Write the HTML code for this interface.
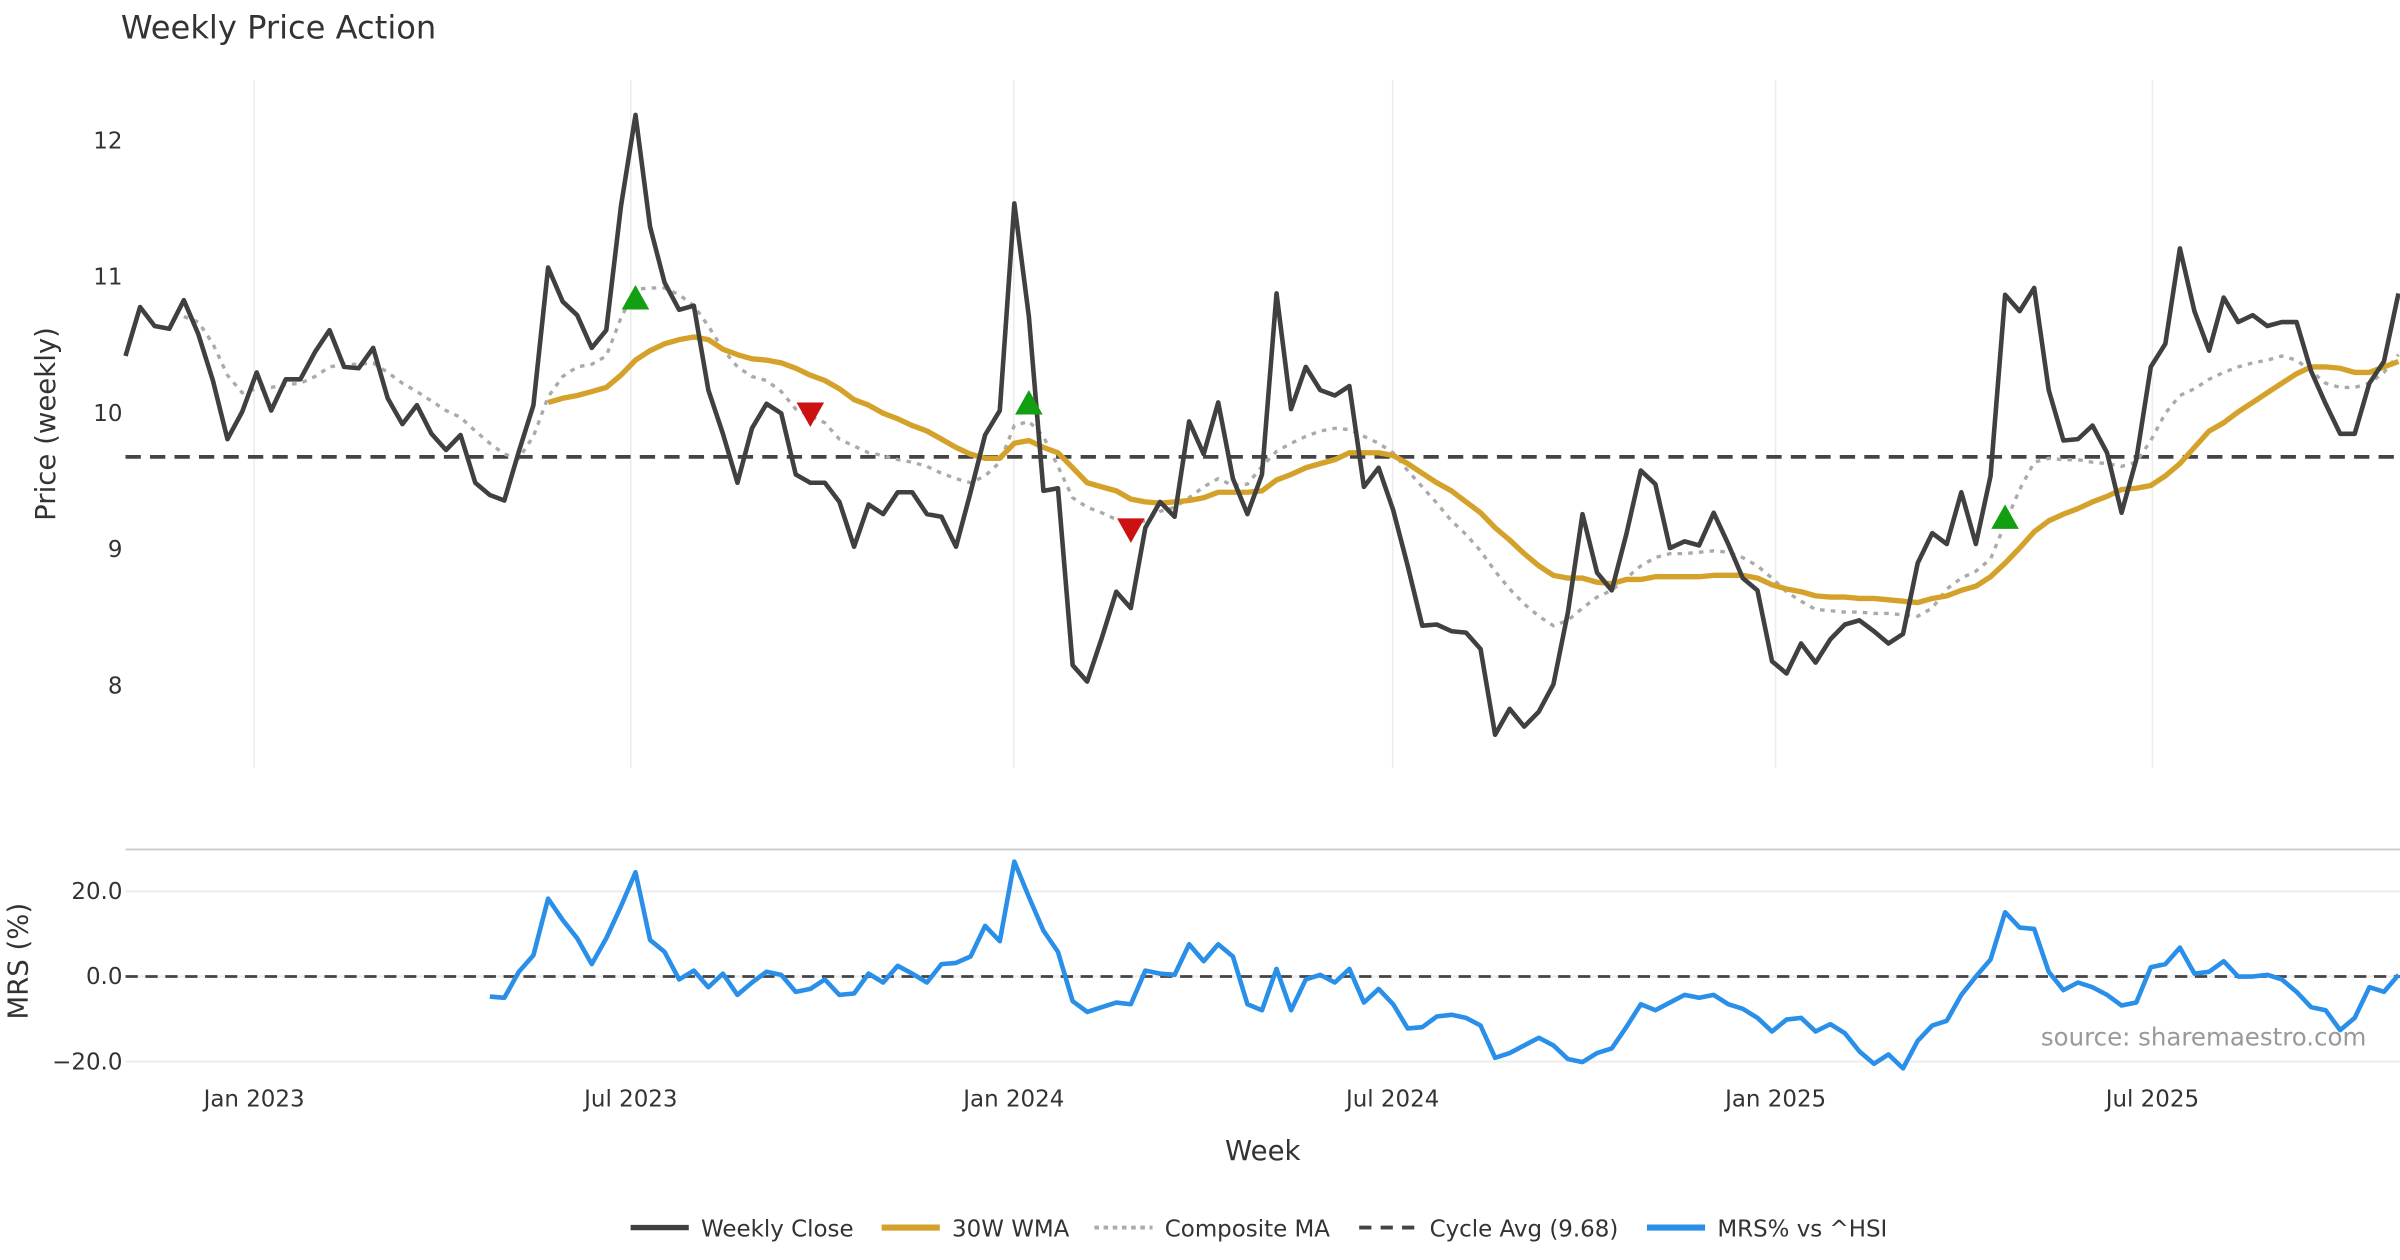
<!DOCTYPE html>
<html><head><meta charset="utf-8"><style>
html,body{margin:0;padding:0;background:#fff;}
svg{display:block;font-family:"DejaVu Sans","Liberation Sans",sans-serif;}
</style></head><body>
<svg id="chart" width="2400" height="1260" viewBox="0 0 1568 823.2" preserveAspectRatio="none" xmlns="http://www.w3.org/2000/svg">
<text x="79" y="25" font-size="21" fill="#333">Weekly Price Action</text>
<g id="grid"></g>
<g id="series"></g>
<text transform="translate(36,277) rotate(-90)" text-anchor="middle" font-size="18" fill="#333">Price (weekly)</text>
<text transform="translate(18,628) rotate(-90)" text-anchor="middle" font-size="18" fill="#333">MRS (%)</text>
<text x="825" y="758" text-anchor="middle" font-size="18" fill="#333">Week</text>
<text x="1546" y="683" text-anchor="end" font-size="16" fill="#999">source: sharemaestro.com</text>
<g id="legend"></g>
</svg>
<script>
const closeVals=[10.42,10.78,10.64,10.62,10.83,10.58,10.24,9.81,10.01,10.30,10.02,10.25,10.25,10.45,10.61,10.34,10.33,10.48,10.11,9.92,10.06,9.85,9.73,9.84,9.49,9.40,9.36,9.72,10.06,11.07,10.82,10.72,10.48,10.61,11.52,12.19,11.37,10.96,10.76,10.79,10.17,9.85,9.49,9.89,10.07,10.00,9.55,9.49,9.49,9.35,9.02,9.33,9.26,9.42,9.42,9.26,9.24,9.02,9.42,9.84,10.02,11.54,10.71,9.43,9.45,8.15,8.03,8.35,8.69,8.57,9.16,9.35,9.24,9.94,9.70,10.08,9.52,9.26,9.55,10.88,10.03,10.34,10.17,10.13,10.20,9.46,9.60,9.29,8.88,8.44,8.45,8.40,8.39,8.27,7.64,7.83,7.70,7.81,8.01,8.54,9.26,8.83,8.70,9.11,9.58,9.48,9.01,9.06,9.03,9.27,9.04,8.79,8.70,8.18,8.09,8.31,8.17,8.34,8.45,8.48,8.40,8.31,8.38,8.90,9.12,9.04,9.42,9.04,9.54,10.87,10.75,10.92,10.17,9.80,9.81,9.91,9.71,9.27,9.66,10.34,10.51,11.21,10.75,10.46,10.85,10.67,10.72,10.64,10.67,10.67,10.31,10.07,9.85,9.85,10.22,10.38,10.88];
const wmaStart=29;
const wmaVals=[10.08,10.11,10.13,10.16,10.19,10.28,10.39,10.46,10.51,10.54,10.56,10.54,10.47,10.43,10.40,10.39,10.37,10.33,10.28,10.24,10.18,10.10,10.06,10.00,9.96,9.91,9.87,9.81,9.75,9.70,9.67,9.67,9.78,9.80,9.75,9.71,9.60,9.49,9.46,9.43,9.37,9.35,9.34,9.35,9.36,9.38,9.42,9.42,9.42,9.43,9.51,9.55,9.60,9.63,9.66,9.71,9.71,9.71,9.69,9.63,9.56,9.49,9.43,9.35,9.27,9.16,9.07,8.97,8.88,8.81,8.79,8.79,8.76,8.75,8.78,8.78,8.80,8.80,8.80,8.80,8.81,8.81,8.81,8.79,8.74,8.71,8.69,8.66,8.65,8.65,8.64,8.64,8.63,8.62,8.61,8.64,8.66,8.70,8.73,8.80,8.90,9.01,9.13,9.21,9.26,9.30,9.35,9.39,9.44,9.45,9.47,9.54,9.63,9.75,9.87,9.93,10.01,10.08,10.15,10.22,10.29,10.34,10.34,10.33,10.30,10.30,10.34,10.38];
const compStart=4;
const compVals=[10.71,10.67,10.51,10.28,10.15,10.18,10.19,10.21,10.22,10.27,10.34,10.36,10.36,10.37,10.30,10.22,10.16,10.09,10.02,9.97,9.87,9.78,9.70,9.67,9.83,10.12,10.27,10.34,10.36,10.42,10.70,10.91,10.92,10.92,10.87,10.79,10.64,10.47,10.34,10.27,10.24,10.16,10.03,9.98,9.93,9.81,9.76,9.71,9.69,9.66,9.64,9.61,9.56,9.52,9.49,9.54,9.64,9.91,9.94,9.83,9.61,9.38,9.31,9.27,9.22,9.19,9.21,9.28,9.31,9.38,9.46,9.52,9.47,9.48,9.61,9.72,9.78,9.83,9.87,9.89,9.88,9.83,9.78,9.71,9.58,9.46,9.34,9.21,9.11,8.99,8.84,8.71,8.60,8.51,8.44,8.48,8.57,8.65,8.70,8.79,8.88,8.94,8.97,8.97,8.98,8.99,8.98,8.94,8.88,8.79,8.69,8.62,8.56,8.55,8.54,8.54,8.53,8.53,8.52,8.51,8.57,8.71,8.79,8.84,8.93,9.19,9.44,9.64,9.67,9.66,9.66,9.64,9.63,9.61,9.64,9.80,10.00,10.13,10.18,10.25,10.30,10.34,10.37,10.39,10.42,10.39,10.31,10.22,10.19,10.19,10.22,10.30,10.43];
const mrsStart=25;
const mrsVals=[-4.7,-5.0,1.1,5.0,18.3,13.3,9.0,2.9,9.0,16.5,24.5,8.6,5.8,-0.7,1.4,-2.5,0.7,-4.3,-1.4,1.1,0.4,-3.6,-2.9,-0.7,-4.3,-4.0,0.7,-1.4,2.5,0.7,-1.4,2.9,3.2,4.7,11.9,8.3,27.0,18.7,10.8,5.8,-5.8,-8.3,-7.2,-6.1,-6.5,1.4,0.7,0.4,7.6,3.6,7.6,4.7,-6.5,-7.9,1.8,-7.9,-0.7,0.4,-1.4,1.8,-6.1,-2.9,-6.5,-12.2,-11.9,-9.4,-9.0,-9.7,-11.5,-19.1,-18.0,-16.2,-14.4,-16.2,-19.4,-20.1,-18.0,-16.9,-11.9,-6.5,-7.9,-6.1,-4.3,-5.0,-4.3,-6.5,-7.6,-9.7,-12.9,-10.1,-9.7,-12.9,-11.2,-13.3,-17.6,-20.5,-18.3,-21.6,-15.1,-11.5,-10.4,-4.3,0,4.0,15.1,11.5,11.2,1.1,-3.2,-1.4,-2.5,-4.3,-6.8,-6.1,2.2,2.9,6.8,0.7,1.1,3.6,0,0,0.4,-0.7,-3.6,-7.2,-7.9,-12.6,-9.7,-2.5,-3.6,0.4];
const buyIdx=[35,62,129];
const buyVals=[10.84,10.07,9.23];
const sellIdx=[47,69];
const sellVals=[10.00,9.15];
const cycleAvg=9.68;
const priceTicks=[8,9,10,11,12];
const mrsTicks=[20,0,-20];
const mrsTickLabels=["20.0","0.0","\u221220.0"];
const dateTicks=["2023-01-01","2023-07-01","2024-01-01","2024-07-01","2025-01-01","2025-07-01"];
const dateTickLabels=["Jan 2023","Jul 2023","Jan 2024","Jul 2024","Jan 2025","Jul 2025"];

const NS="http://www.w3.org/2000/svg";
const X0=82,X1=1567;
const N=closeVals.length;
const step=(X1-X0)/(N-1);
const xi=i=>X0+i*step;
const yP=v=>92+(12-v)*89;
const yM=v=>638-v*2.78;
const ref=new Date("2023-01-01T00:00:00Z").getTime();
const xDate=s=>166+(new Date(s+"T00:00:00Z").getTime()-ref)/86400000*(step/7);
function mk(tag,attrs,parent){const e=document.createElementNS(NS,tag);for(const k in attrs)e.setAttribute(k,attrs[k]);parent.appendChild(e);return e;}
const grid=document.getElementById('grid'),ser=document.getElementById('series'),leg=document.getElementById('legend');

dateTicks.forEach((d,i)=>{
  const x=xDate(d);
  const g=mk('line',{x1:x,x2:x,y1:52,y2:502,stroke:'#ececec','stroke-width':1},grid);
  
  
  const t=mk('text',{x:x,y:723,'text-anchor':'middle','font-size':15,fill:'#333'},grid);
  t.textContent=dateTickLabels[i];
  
  
});
priceTicks.forEach(v=>{
  const t=mk('text',{x:80,y:yP(v)+5,'text-anchor':'end','font-size':15,fill:'#333'},grid);
  t.textContent=String(v);
  
  
});
const sep=mk('line',{x1:82,x2:1568,y1:555,y2:555,stroke:'#ccc','stroke-width':1.3},grid);


mrsTicks.forEach((v,i)=>{
  const l=mk('line',{x1:82,x2:1568,y1:yM(v),y2:yM(v),stroke:'#eee','stroke-width':1.5},grid);
  
  
  const t=mk('text',{x:80,y:yM(v)+5,'text-anchor':'end','font-size':15,fill:'#333'},grid);
  t.textContent=mrsTickLabels[i];
  
  
});
function path(vals,start,yf){return vals.map((v,k)=>(k?'L':'M')+xi(start+k).toFixed(1)+','+yf(v).toFixed(1)).join('');}
const ca=mk('line',{x1:82,x2:1568,y1:yP(cycleAvg),y2:yP(cycleAvg),stroke:'#444','stroke-width':2.5,'stroke-dasharray':'10,6'},ser);


const cm=mk('path',{d:path(compVals,compStart,yP),fill:'none',stroke:'#aaa','stroke-width':2.2,'stroke-dasharray':'3,4'},ser);


const wm=mk('path',{d:path(wmaVals,wmaStart,yP),fill:'none',stroke:'#d4a22a','stroke-width':3.5,'stroke-linejoin':'round'},ser);


const cl=mk('path',{d:path(closeVals,0,yP),fill:'none',stroke:'#404040','stroke-width':3,'stroke-linejoin':'round'},ser);


buyIdx.forEach((ix,k)=>{
  const x=xi(ix),y=yP(buyVals[k]);
  const p=mk('polygon',{points:`${x-9},${y+7} ${x+9},${y+7} ${x},${y-9}`,fill:'#12a012'},ser);
  
  
});
sellIdx.forEach((ix,k)=>{
  const x=xi(ix),y=yP(sellVals[k]);
  const p=mk('polygon',{points:`${x-9},${y-7} ${x+9},${y-7} ${x},${y+9}`,fill:'#cc1111'},ser);
  
  
});
const z=mk('line',{x1:82,x2:1568,y1:yM(0),y2:yM(0),stroke:'#444','stroke-width':1.8,'stroke-dasharray':'8,5'},ser);


const mr=mk('path',{d:path(mrsVals,mrsStart,yM),fill:'none',stroke:'#2a8fe8','stroke-width':3,'stroke-linejoin':'round'},ser);



const legItems=[["Weekly Close","#404040","",3.5,412],["30W WMA","#d4a22a","",4,576],["Composite MA","#aaa","3,3",2.5,715],["Cycle Avg (9.68)","#444","8,6",2.5,888],["MRS% vs ^HSI","#2a8fe8","",4,1076]];
legItems.forEach(it=>{
  const l=mk('line',{x1:it[4],x2:it[4]+38,y1:802,y2:802,stroke:it[1],'stroke-width':it[3],'stroke-dasharray':it[2]||'none'},leg);
  
  
  const t=mk('text',{x:it[4]+46,y:808,'font-size':15,fill:'#333'},leg);
  t.textContent=it[0];
  
  
});
</script>
</body></html>
